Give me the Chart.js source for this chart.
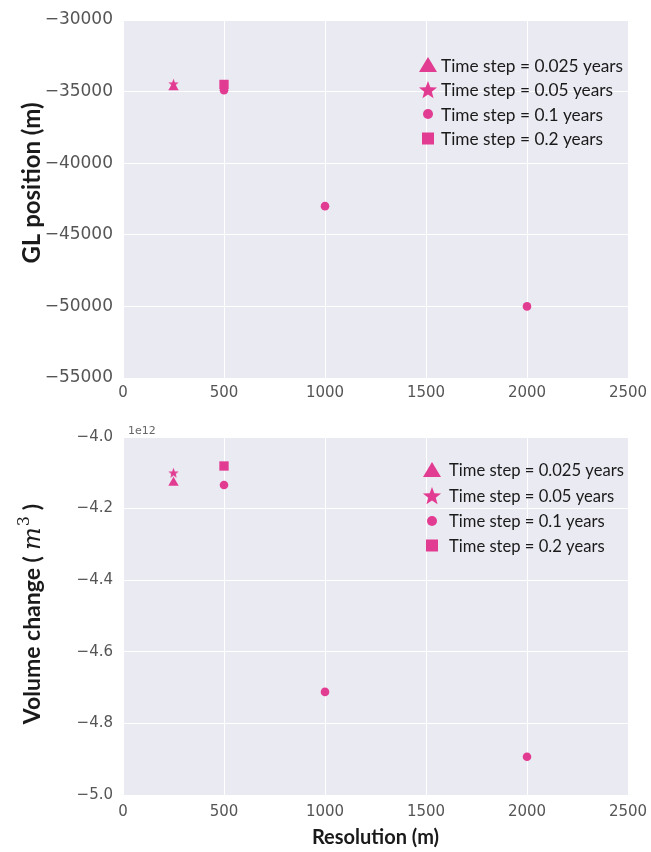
<!DOCTYPE html>
<html><head><meta charset="utf-8">
<script src="https://cdn.jsdelivr.net/npm/chart.js@4.4.0/dist/chart.umd.min.js"></script>
<style>
html,body{margin:0;padding:0;background:#fff;overflow:hidden;}
#w1{position:absolute;left:0;top:0;width:651px;height:410px;}
#w2{position:absolute;left:0;top:420px;width:651px;height:432px;}
</style></head><body>
<div id="w1"><canvas id="c1"></canvas></div>
<div id="w2"><canvas id="c2"></canvas></div>
<script>
// ---- data ----
const seriesLabels = ['Time step = 0.025 years', 'Time step = 0.05 years', 'Time step = 0.1 years', 'Time step = 0.2 years'];
const res0025 = [250];
const res005 = [250];
const res01 = [500, 1000, 2000];
const res02 = [500];
const gl0025 = [-34700];
const gl005 = [-34450];
const gl01 = [-34900, -43000, -50000];
const gl02 = [-34500];
const vol0025 = [-4.128e12];
const vol005 = [-4.100e12];
const vol01 = [-4.134e12, -4.712e12, -4.893e12];
const vol02 = [-4.081e12];
const xTicks = [0, 500, 1000, 1500, 2000, 2500];
const glTicks = [-55000, -50000, -45000, -40000, -35000, -30000];
const volTicks = [-5.0e12, -4.8e12, -4.6e12, -4.4e12, -4.2e12, -4.0e12];
const glTitle = 'GL position (m)';
const volTitleParts = ['Volume change (', 'm', '3', ')'];
const xTitle = 'Resolution (m)';

const PINK = '#e23c92';
const BG = '#eaeaf2';
const TITLE_COLOR = '#1a1a1a';

function starPath(g, cx, cy, R, r) {
  g.beginPath();
  for (let i = 0; i < 10; i++) {
    const a = -Math.PI / 2 + i * Math.PI / 5;
    const rr = i % 2 === 0 ? R : r;
    const x = cx + rr * Math.cos(a), y = cy + rr * Math.sin(a);
    if (i === 0) g.moveTo(x, y); else g.lineTo(x, y);
  }
  g.closePath();
}
function starCanvas(R) {
  const s = Math.ceil(R * 2 + 2);
  const c = document.createElement('canvas');
  c.width = s; c.height = s;
  const g = c.getContext('2d');
  starPath(g, s / 2, s / 2 + R * 0.1, R, R * 0.42);
  g.fillStyle = PINK; g.fill();
  return c;
}
const starImg = starCanvas(5.5);

function pts(xs, ys) { return xs.map((x, i) => ({x: x, y: ys[i]})); }

function makeDatasets(a, b, c, d) {
  return [
    {label: seriesLabels[0], data: a, pointStyle: 'triangle', pointRadius: 6, backgroundColor: PINK, borderColor: PINK, borderWidth: 0},
    {label: seriesLabels[1], data: b, pointStyle: starImg, pointRadius: 6, backgroundColor: PINK, borderColor: PINK, borderWidth: 0},
    {label: seriesLabels[2], data: c, pointStyle: 'circle', pointRadius: 4.3, backgroundColor: PINK, borderColor: PINK, borderWidth: 0},
    {label: seriesLabels[3], data: d, pointStyle: 'rect', pointRadius: 6.6, backgroundColor: PINK, borderColor: PINK, borderWidth: 0}
  ];
}

function legendMarker(g, style, x, y) {
  g.fillStyle = PINK;
  if (style === 'triangle') {
    g.beginPath(); g.moveTo(x, y - 8); g.lineTo(x + 9, y + 7); g.lineTo(x - 9, y + 7); g.closePath(); g.fill();
  } else if (style === 'star') {
    starPath(g, x, y + 1, 9.5, 4); g.fill();
  } else if (style === 'circle') {
    g.beginPath(); g.arc(x, y, 5, 0, Math.PI * 2); g.fill();
  } else {
    g.fillRect(x - 6, y - 6, 12, 12);
  }
}
const legendStyles = ['triangle', 'star', 'circle', 'rect'];

function bgPlugin() {
  return {
    id: 'bg',
    beforeDraw(chart) {
      const g = chart.ctx, a = chart.chartArea;
      g.save();
      g.fillStyle = '#ffffff'; g.fillRect(0, 0, chart.width, chart.height);
      g.fillStyle = BG; g.fillRect(a.left, a.top, a.right - a.left, a.bottom - a.top);
      g.restore();
    }
  };
}
function legendPlugin(rows, markerX, textX, fontSize) {
  return {
    id: 'lg',
    afterDatasetsDraw(chart) {
      const g = chart.ctx;
      g.save();
      g.font = fontSize + 'px Lato';
      g.textBaseline = 'middle';
      g.textAlign = 'left';
      rows.forEach((y, i) => {
        legendMarker(g, legendStyles[i], markerX, y);
        g.fillStyle = '#1a1a1a';
        g.fillText(seriesLabels[i], textX, y + 1);
      });
      g.restore();
    }
  };
}
function offsetPlugin() {
  return {
    id: 'off',
    afterDraw(chart) {
      const g = chart.ctx;
      g.save();
      g.font = '11px "DejaVu Sans"';
      g.fillStyle = '#666';
      g.textBaseline = 'alphabetic';
      g.fillText('1e12', 128, 14);
      g.restore();
    }
  };
}
// y-axis titles (rotated text), drawn as real canvas text
function yTitlePlugin(parts, baseX, centerY) {
  return {
    id: 'yt',
    afterDraw(chart) {
      const g = chart.ctx;
      g.save();
      let total = 0;
      const widths = parts.map(p => { g.font = p.font; const w = g.measureText(p.text).width + (p.gap || 0); total += w; return w; });
      g.translate(baseX, centerY);
      g.rotate(-Math.PI / 2);
      g.fillStyle = TITLE_COLOR;
      g.textBaseline = 'alphabetic';
      g.textAlign = 'left';
      let x = -total / 2;
      parts.forEach((p, i) => {
        g.font = p.font;
        g.fillText(p.text, x, -(p.rise || 0));
        x += widths[i];
      });
      g.restore();
    }
  };
}

const minus = v => (v < 0 ? '\u2212' : '') + Math.abs(v);

function xScale(h, showTitle, pad, titlePad) {
  return {
    type: 'linear', min: 0, max: 2500,
    afterBuildTicks: s => { s.ticks = xTicks.map(v => ({value: v})); },
    afterFit: s => { s.height = h; s.paddingLeft = 0; s.paddingRight = 0; },
    grid: {color: '#ffffff', lineWidth: 1, drawTicks: false},
    border: {display: false},
    ticks: {padding: pad, color: '#555', font: {family: 'DejaVu Sans', size: 15}, maxRotation: 0, callback: v => minus(v)},
    title: {display: showTitle, text: xTitle, color: TITLE_COLOR, font: {family: 'Lato', size: 20, weight: 'bold'}, padding: {top: 0, bottom: titlePad}}
  };
}
function yScale(min, max, tickVals, fmt, size) {
  return {
    type: 'linear', min: min, max: max,
    afterBuildTicks: s => { s.ticks = tickVals.map(v => ({value: v})); },
    afterFit: s => { s.width = 123; s.paddingTop = 0; s.paddingBottom = 0; },
    grid: {color: '#ffffff', lineWidth: 1, drawTicks: false},
    border: {display: false},
    ticks: {padding: 10, color: '#555', font: {family: 'DejaVu Sans', size: size}, callback: fmt},
    title: {display: false}
  };
}

const common = {
  responsive: true, maintainAspectRatio: false, animation: false, devicePixelRatio: 1,
  plugins: {legend: {display: false}, tooltip: {enabled: false}}
};

new Chart(document.getElementById('c1'), {
  type: 'scatter',
  data: {datasets: makeDatasets(pts(res0025, gl0025), pts(res005, gl005), pts(res01, gl01), pts(res02, gl02))},
  options: Object.assign({}, common, {
    layout: {padding: {top: 20, right: 23, left: 0, bottom: 0}},
    scales: {
      x: xScale(32, false, 6, 0),
      y: yScale(-55000, -30000, glTicks, v => minus(v), 17)
    }
  }),
  plugins: [bgPlugin(), legendPlugin([65, 89.5, 114, 138.5], 428, 441, 17.3),
    yTitlePlugin([{text: glTitle, font: 'bold 24px Lato'}], 40, 183)]
});

new Chart(document.getElementById('c2'), {
  type: 'scatter',
  data: {datasets: makeDatasets(pts(res0025, vol0025), pts(res005, vol005), pts(res01, vol01), pts(res02, vol02))},
  options: Object.assign({}, common, {
    layout: {padding: {top: 17, right: 23, left: 0, bottom: 0}},
    scales: {
      x: xScale(57, true, 8, 2),
      y: yScale(-5.0e12, -4.0e12, volTicks, v => { const n = v / 1e12; return (n < 0 ? '\u2212' : '') + Math.abs(n).toFixed(1); }, 15)
    }
  }),
  plugins: [bgPlugin(), legendPlugin([50, 75.5, 101, 125.5], 432, 449, 16.6), offsetPlugin(),
    yTitlePlugin([
      {text: volTitleParts[0], font: 'bold 23px Lato', gap: 6},
      {text: volTitleParts[1], font: 'italic 24px "DejaVu Serif"', gap: 1},
      {text: volTitleParts[2], font: '16px "DejaVu Serif"', rise: 11, gap: 6},
      {text: volTitleParts[3], font: 'bold 23px Lato'}
    ], 40, 194)]
});
</script>
</body></html>
